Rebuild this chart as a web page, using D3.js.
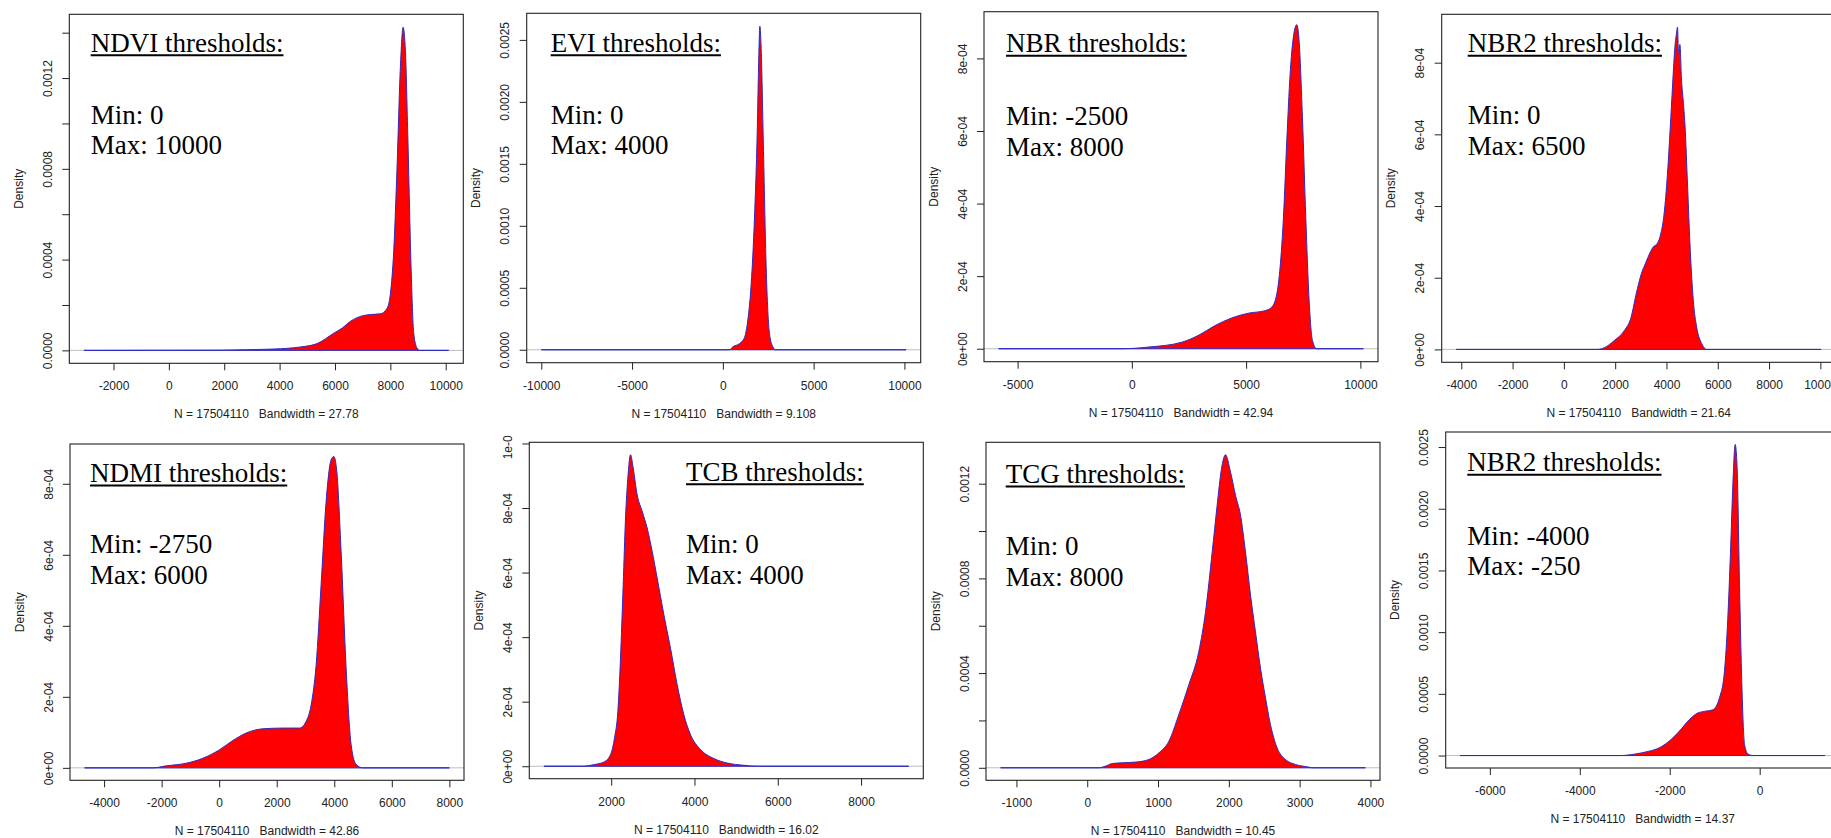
<!DOCTYPE html>
<html>
<head>
<meta charset="utf-8">
<script src="https://cdn.jsdelivr.net/npm/d3@7"></script>
<style>
  body { margin: 0; background: #fff; }
  svg { display: block; }
  .axis text { font-family: "Liberation Sans", Arial, sans-serif; font-size: 12px; fill: #222; }
  .axis line { stroke: #222; }
  .axis path { display: none; }
  .note { font-family: "Liberation Serif", "Times New Roman", serif; font-size: 27px; fill: #000; }
  .lab { font-family: "Liberation Sans", Arial, sans-serif; font-size: 12px; fill: #222; white-space: pre; }
</style>
</head>
<body>
<div id="chart"></div>
<script>
// density curves (x = index value, y = density)
const ndviX = [-3069, 1865, 2800, 3791, 4753, 5355, 5957, 6257, 6558, 6980, 7280, 7641, 7882, 8002, 8123, 8243, 8363, 8460, 8544, 8628, 8748, 8845, 8965, 9061, 10108];
const ndviY = [0, 0.000001, 0.000003, 0.000006, 0.000015, 0.00003, 0.000076, 0.000098, 0.000128, 0.000152, 0.000158, 0.000161, 0.000186, 0.00025, 0.00044, 0.00081, 0.00125, 0.001424, 0.00132, 0.00096, 0.00037, 0.000076, 0.00001, 0, 0];

const eviX = [-10000, 367, 550, 918, 1193, 1376, 1560, 1743, 1890, 1982, 2037, 2110, 2239, 2385, 2569, 2753, 2900, 10093];
const eviY = [0, 0, 0.000024, 0.00005, 0.0001, 0.00024, 0.00053, 0.00107, 0.00174, 0.00238, 0.00261, 0.00243, 0.0016, 0.00067, 0.00013, 0.000024, 0, 0];

const nbrX = [-5832, -437, 729, 2187, 2916, 3645, 4374, 5103, 5832, 6124, 6343, 6488, 6634, 6780, 6926, 7144, 7217, 7319, 7465, 7611, 7757, 7903, 8092, 10133];
const nbrY = [0, 0, 0.0000046, 0.000018, 0.000037, 0.000064, 0.000085, 0.000098, 0.000105, 0.000115, 0.000151, 0.000225, 0.000362, 0.000573, 0.000757, 0.000885, 0.000893, 0.000849, 0.000638, 0.000362, 0.000133, 0.000023, 0, 0];

const nbr2X = [-4195, 1311, 1573, 1967, 2360, 2622, 2819, 3015, 3173, 3278, 3474, 3645, 3776, 3907, 4038, 4169, 4261, 4326, 4392, 4431, 4470, 4523, 4589, 4654, 4720, 4825, 4916, 5047, 5178, 5375, 5572, 10029];
const nbr2Y = [0, 0, 0.0000046, 0.000025, 0.000053, 0.00009, 0.000155, 0.00021, 0.000239, 0.000257, 0.000285, 0.000296, 0.000322, 0.000378, 0.000489, 0.000647, 0.000767, 0.000842, 0.000883, 0.000899, 0.000828, 0.000851, 0.000749, 0.000693, 0.000628, 0.000452, 0.000294, 0.000136, 0.000062, 0.000016, 0, 0];

const ndmiX = [-4678, -2304, -1841, -1146, -567, 12, 475, 938, 1517, 2212, 2791, 3022, 3196, 3370, 3543, 3717, 3891, 3984, 4088, 4238, 4412, 4586, 4759, 4991, 8002];
const ndmiY = [0, 0, 0.0000056, 0.000013, 0.000027, 0.000051, 0.000077, 0.000098, 0.00011, 0.000112, 0.000112, 0.000131, 0.000177, 0.00029, 0.000516, 0.00075, 0.000868, 0.000877, 0.000835, 0.000609, 0.000281, 0.000065, 0.00001, 0, 0];

const tcbX = [384, 1304, 1584, 1824, 1984, 2080, 2160, 2224, 2288, 2344, 2400, 2464, 2528, 2624, 2744, 2864, 2984, 3104, 3264, 3424, 3584, 3744, 3904, 4144, 4464, 4784, 5184, 5504, 9144];
const tcbY = [0, 0, 0.000005, 0.000013, 0.000036, 0.000088, 0.00017, 0.000335, 0.000562, 0.000769, 0.000893, 0.000965, 0.000924, 0.000841, 0.00079, 0.000738, 0.000666, 0.000583, 0.00047, 0.000366, 0.000253, 0.00016, 0.000098, 0.000052, 0.000024, 0.00001, 0.000003, 0, 0];

const tcgX = [-1224, 165, 259, 353, 494, 682, 871, 1012, 1153, 1294, 1435, 1576, 1671, 1765, 1835, 1896, 1953, 2024, 2094, 2165, 2235, 2306, 2376, 2447, 2518, 2588, 2682, 2800, 2941, 3129, 3176, 3929];
const tcgY = [0, 0, 0.000007, 0.000018, 0.000021, 0.000024, 0.000035, 0.000063, 0.000112, 0.000225, 0.000351, 0.000491, 0.00066, 0.000912, 0.001109, 0.001263, 0.001322, 0.001249, 0.001151, 0.001067, 0.000912, 0.00073, 0.000575, 0.000421, 0.000295, 0.000182, 0.000084, 0.000035, 0.000014, 0.000003, 0, 0];

const nbr2bX = [-6657, -3097, -2761, -2463, -2239, -2015, -1791, -1567, -1381, -1231, -1045, -896, -784, -709, -649, -597, -545, -500, -448, -396, -336, -261, -149, 1455];
const nbr2bY = [0, 0, 0.000013, 0.000035, 0.000062, 0.000116, 0.000196, 0.00029, 0.000344, 0.000358, 0.000371, 0.000465, 0.00068, 0.00111, 0.001648, 0.002185, 0.002521, 0.00232, 0.001379, 0.000573, 0.000089, 0.000013, 0, 0];

// ticks and labels
const xTicks = [
  [-2000, 0, 2000, 4000, 6000, 8000, 10000],
  [-10000, -5000, 0, 5000, 10000],
  [-5000, 0, 5000, 10000],
  [-4000, -2000, 0, 2000, 4000, 6000, 8000, 10000],
  [-4000, -2000, 0, 2000, 4000, 6000, 8000],
  [2000, 4000, 6000, 8000],
  [-1000, 0, 1000, 2000, 3000, 4000],
  [-6000, -4000, -2000, 0]
];
const yTicks = [
  [0, 0.0002, 0.0004, 0.0006, 0.0008, 0.0010, 0.0012, 0.0014],
  [0, 0.0005, 0.0010, 0.0015, 0.0020, 0.0025],
  [0, 0.0002, 0.0004, 0.0006, 0.0008],
  [0, 0.0002, 0.0004, 0.0006, 0.0008],
  [0, 0.0002, 0.0004, 0.0006, 0.0008],
  [0, 0.0002, 0.0004, 0.0006, 0.0008, 0.0010],
  [0, 0.0002, 0.0004, 0.0006, 0.0008, 0.0010, 0.0012],
  [0, 0.0005, 0.0010, 0.0015, 0.0020, 0.0025]
];
const yLabels = [
  ["0.0000", "", "0.0004", "", "0.0008", "", "0.0012", ""],
  ["0.0000", "0.0005", "0.0010", "0.0015", "0.0020", "0.0025"],
  ["0e+00", "2e-04", "4e-04", "6e-04", "8e-04"],
  ["0e+00", "2e-04", "4e-04", "6e-04", "8e-04"],
  ["0e+00", "2e-04", "4e-04", "6e-04", "8e-04"],
  ["0e+00", "2e-04", "4e-04", "6e-04", "8e-04", "1e-03"],
  ["0.0000", "", "0.0004", "", "0.0008", "", "0.0012"],
  ["0.0000", "0.0005", "0.0010", "0.0015", "0.0020", "0.0025"]
];
const titles = ["NDVI thresholds:", "EVI thresholds:", "NBR thresholds:", "NBR2 thresholds:",
                "NDMI thresholds:", "TCB thresholds:", "TCG thresholds:", "NBR2 thresholds:"];
const mins = ["0", "0", "-2500", "0", "-2750", "0", "0", "-4000"];
const maxs = ["10000", "4000", "8000", "6500", "6000", "4000", "8000", "-250"];
const bandwidths = ["27.78", "9.108", "42.94", "21.64", "42.86", "16.02", "10.45", "14.37"];
const nObs = 17504110;

const curves = [[ndviX, ndviY], [eviX, eviY], [nbrX, nbrY], [nbr2X, nbr2Y],
                [ndmiX, ndmiY], [tcbX, tcbY], [tcgX, tcgY], [nbr2bX, nbr2bY]];

// where each little R plot sits in the collage
const boxW = 394;
const layout = [
  { left: 69.3, top: 14.3, bottom: 363.3, tx: 90.7, ty: 51.7, minY: 124, maxY: 154 },
  { left: 526.7, top: 13.3, bottom: 362.7, tx: 550.7, ty: 51.7, minY: 124, maxY: 154 },
  { left: 984, top: 11.7, bottom: 361.7, tx: 1006, ty: 52.3, minY: 125, maxY: 155.7 },
  { left: 1441.7, top: 14.3, bottom: 362.3, tx: 1467.7, ty: 52.3, minY: 124, maxY: 155 },
  { left: 70, top: 444, bottom: 780.3, tx: 90, ty: 482, minY: 553, maxY: 583.7 },
  { left: 529.3, top: 442.3, bottom: 778.7, tx: 686, ty: 480.7, minY: 553, maxY: 584, clipTop: 435.5 },
  { left: 986, top: 442.3, bottom: 780.3, tx: 1005.7, ty: 483, minY: 554.7, maxY: 586.3 },
  { left: 1445.7, top: 432, bottom: 768, tx: 1467.3, ty: 471.3, minY: 544.7, maxY: 575.3 }
];

const width = 1831, height = 838;
const svg = d3.select('#chart').append('svg')
  .attr('width', width)
  .attr('height', height)
  .attr('viewBox', `0 0 ${width} ${height}`);

svg.append('rect').attr('width', width).attr('height', height).attr('fill', '#fff');

curves.forEach((c, i) => drawPanel(i));

function drawPanel(i) {
  const l = layout[i];
  const xs = curves[i][0], ys = curves[i][1];
  const right = l.left + boxW;

  // R style limits: data range padded by 4% on both sides
  const ext = d3.extent(xs), yMax = d3.max(ys);
  const xr = ext[1] - ext[0];
  const x = d3.scaleLinear().domain([ext[0] - 0.04 * xr, ext[1] + 0.04 * xr]).range([l.left, right]);
  const y = d3.scaleLinear().domain([-0.04 * yMax, 1.04 * yMax]).range([l.bottom, l.top]);

  let g = svg.append('g');
  if (l.clipTop) {
    svg.append('clipPath').attr('id', 'clip' + i)
      .append('rect').attr('x', l.left - 80).attr('y', l.clipTop)
      .attr('width', boxW + 100).attr('height', height - l.clipTop);
    g.attr('clip-path', `url(#clip${i})`);
  }

  // abline(h = 0, col = "gray")
  g.append('line')
    .attr('x1', l.left).attr('x2', right)
    .attr('y1', y(0)).attr('y2', y(0))
    .attr('stroke', '#bebebe');

  const pts = xs.map((v, k) => [v, ys[k]]);
  const line = d3.line().x(d => x(d[0])).y(d => y(d[1])).curve(d3.curveMonotoneX);
  g.append('path')
    .attr('d', line(pts) + 'Z')
    .attr('fill', '#ff0000')
    .attr('stroke', '#2b2bc8')
    .attr('stroke-width', 1)
    .attr('stroke-linejoin', 'round');

  // plot box
  g.append('rect')
    .attr('x', l.left).attr('y', l.top)
    .attr('width', boxW).attr('height', l.bottom - l.top)
    .attr('fill', 'none').attr('stroke', '#222').attr('stroke-width', 1.1);

  // x axis
  g.append('g').attr('class', 'axis')
    .attr('transform', `translate(0,${l.bottom})`)
    .call(d3.axisBottom(x).tickValues(xTicks[i]).tickFormat(d => String(d)).tickSize(7).tickPadding(11.5));

  // y axis, labels turned like R's las = 0
  const ya = g.append('g').attr('class', 'axis')
    .attr('transform', `translate(${l.left},0)`)
    .call(d3.axisLeft(y).tickValues(yTicks[i]).tickFormat((d, k) => yLabels[i][k]).tickSize(7));
  ya.selectAll('text')
    .attr('transform', 'rotate(-90)')
    .attr('x', 0).attr('y', -21.5)
    .attr('dy', '0.35em')
    .attr('text-anchor', 'middle');

  // axis titles
  g.append('text').attr('class', 'lab')
    .attr('transform', `translate(${l.left - 50.5},${(l.top + l.bottom) / 2}) rotate(-90)`)
    .attr('dy', '0.35em')
    .attr('text-anchor', 'middle')
    .text('Density');

  g.append('text').attr('class', 'lab')
    .attr('x', (l.left + right) / 2).attr('y', l.bottom + 55)
    .attr('text-anchor', 'middle')
    .text(`N = ${nObs}   Bandwidth = ${bandwidths[i]}`);

  // threshold notes
  const t = g.append('text').attr('class', 'note')
    .attr('x', l.tx).attr('y', l.ty)
    .text(titles[i]);
  const tw = t.node().getComputedTextLength();
  g.append('line')
    .attr('x1', l.tx).attr('x2', l.tx + tw)
    .attr('y1', l.ty + 3.5).attr('y2', l.ty + 3.5)
    .attr('stroke', '#000').attr('stroke-width', 2);

  g.append('text').attr('class', 'note')
    .attr('x', l.tx).attr('y', l.minY)
    .text(`Min: ${mins[i]}`);
  g.append('text').attr('class', 'note')
    .attr('x', l.tx).attr('y', l.maxY)
    .text(`Max: ${maxs[i]}`);
}
</script>
</body>
</html>
